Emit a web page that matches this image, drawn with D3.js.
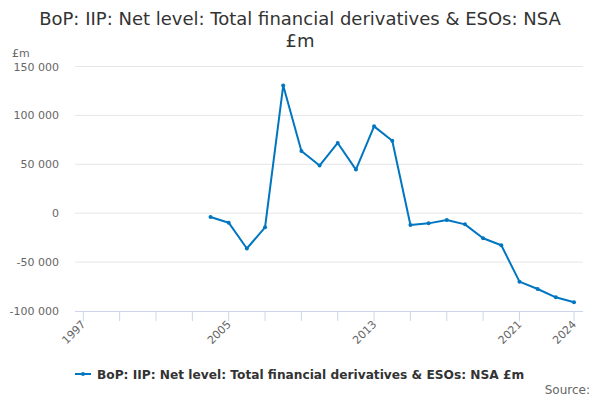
<!DOCTYPE html>
<html>
<head>
<meta charset="utf-8">
<script src="https://cdn.jsdelivr.net/npm/d3@7"></script>
<style>
html,body{margin:0;padding:0;background:#fff;}
svg{display:block;font-family:"DejaVu Sans",sans-serif;}
</style>
</head>
<body>
<svg id="chart" width="600" height="400"></svg>
<script>
const titleLines = ["BoP: IIP: Net level: Total financial derivatives & ESOs: NSA", "£m"];
const seriesName = "BoP: IIP: Net level: Total financial derivatives & ESOs: NSA £m";
const years = [2004,2005,2006,2007,2008,2009,2010,2011,2012,2013,2014,2015,2016,2017,2018,2019,2020,2021,2022,2023,2024];
const values = [-3900,-9700,-36100,-14400,130500,63600,48700,71800,44600,88800,74100,-12000,-10400,-6900,-11400,-25600,-32800,-70000,-77500,-86000,-91100];
const yTicks = [-100000,-50000,0,50000,100000,150000];
const xTicks = [1997,1999,2001,2003,2005,2007,2009,2011,2013,2015,2017,2019,2021,2024];
const xLabels = [1997,2005,2013,2021,2024];

const svg = d3.select("#chart");
const x = d3.scaleLinear().domain([1997,2024]).range([83.3,574]);
const y = d3.scaleLinear().domain([-100000,150000]).range([311,66.5]);
const plotLeft = 75, plotRight = 583;

// title
const t = svg.append("text").attr("text-anchor","middle").attr("fill","#333")
  .style("font-size","18px");
titleLines.forEach((l,i)=>t.append("tspan").attr("x",300).attr("y",25+i*22).text(l));

// y unit
svg.append("text").attr("x",12).attr("y",57).attr("fill","#666").style("font-size","11px").text("£m");

// grid + y labels
const fmt = v => d3.format(",")(v).replace(/,/g," ").replace("\u2212","-");
yTicks.forEach(v=>{
  if(v!==-100000) svg.append("line").attr("x1",plotLeft).attr("x2",plotRight)
    .attr("y1",y(v)).attr("y2",y(v)).attr("stroke","#e6e6e6").attr("stroke-width",1);
  svg.append("text").attr("x",59).attr("y",y(v)+4).attr("text-anchor","end")
    .attr("fill","#666").style("font-size","11px").text(fmt(v));
});

// x axis
svg.append("line").attr("x1",plotLeft).attr("x2",plotRight).attr("y1",311.5).attr("y2",311.5)
  .attr("stroke","#ccd6eb").attr("stroke-width",1);
xTicks.forEach(v=>{
  svg.append("line").attr("x1",x(v)).attr("x2",x(v)).attr("y1",311.5).attr("y2",321)
    .attr("stroke","#ccd6eb").attr("stroke-width",1);
});
xLabels.forEach(v=>{
  svg.append("text").attr("transform",`translate(${x(v)+3},${325}) rotate(-45)`)
    .attr("text-anchor","end").attr("fill","#666").style("font-size","11px").text(v);
});

// line
const color = "#0076c0";
const data = years.map((yr,i)=>({yr,v:values[i]}));
svg.append("path").datum(data).attr("fill","none").attr("stroke",color).attr("stroke-width",2)
  .attr("stroke-linejoin","round")
  .attr("d",d3.line().x(d=>x(d.yr)).y(d=>y(d.v)));
svg.selectAll("circle.pt").data(data).enter().append("circle").attr("class","pt")
  .attr("cx",d=>x(d.yr)).attr("cy",d=>y(d.v)).attr("r",2).attr("fill",color);

// legend
svg.append("line").attr("x1",75).attr("x2",91).attr("y1",374).attr("y2",374)
  .attr("stroke",color).attr("stroke-width",2);
svg.append("circle").attr("cx",83).attr("cy",374).attr("r",2).attr("fill",color);
svg.append("text").attr("x",97).attr("y",378.5).attr("fill","#333").style("font-size","12.2px")
  .style("font-weight","bold").text(seriesName);

// source
svg.append("text").attr("x",590).attr("y",394).attr("text-anchor","end").attr("fill","#666")
  .style("font-size","12px").text("Source:");
</script>
</body>
</html>
